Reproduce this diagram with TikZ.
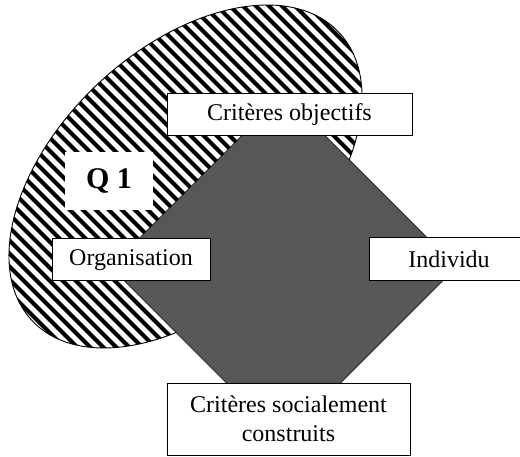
\documentclass[tikz,border=0pt]{standalone}
\usepackage{fontspec}
\setmainfont{Liberation Serif}
\begin{document}
\begin{tikzpicture}[x=1pt,y=1pt,
  labelbox/.style={draw=black, line width=1pt, fill=white, inner sep=0pt,
    align=center, font=\fontsize{24}{29}\selectfont},
  qbox/.style={fill=white, inner sep=0pt, font=\fontsize{30}{34}\selectfont\bfseries},
  core/.style={fill=black!66, draw=black, line width=0.6pt, line join=miter},
  stripe/.style={line width=4pt, black}]
\useasboundingbox (0,0) rectangle (520,456);

% hatched ellipse (question zone)
\begin{scope}
  \clip[shift={(185.5,279.5)}, rotate=43.2] (0,0) ellipse [x radius=210.5, y radius=127.5];
  \fill[white] (0,0) rectangle (520,456);
  \foreach \c in {-100,-87,...,900}
    \draw[stripe] (\c+100,-100) -- (\c-600,600);
\end{scope}
\draw[line width=0.9pt, shift={(185.5,279.5)}, rotate=43.2] (0,0) ellipse [x radius=210.5, y radius=127.5];

% central diamond
\fill[core] (283.5,362) -- (456.5,189) -- (283.5,16) -- (110.5,189) -- cycle;

% labels
\node[labelbox, minimum width=245, minimum height=42] (obj) at (289.5,341) {Critères objectifs};
\node[qbox, minimum width=88, minimum height=58] (q) at (109,275) {Q 1};
\node[labelbox, minimum width=158, minimum height=42] (org) at (131,196) {Organisation};
\node[labelbox, minimum width=160, minimum height=43] (ind) at (449,196.5) {Individu};
\node[labelbox, minimum width=243, minimum height=72] (soc) at (288.5,37) {Critères socialement\\construits};
\end{tikzpicture}
\end{document}
